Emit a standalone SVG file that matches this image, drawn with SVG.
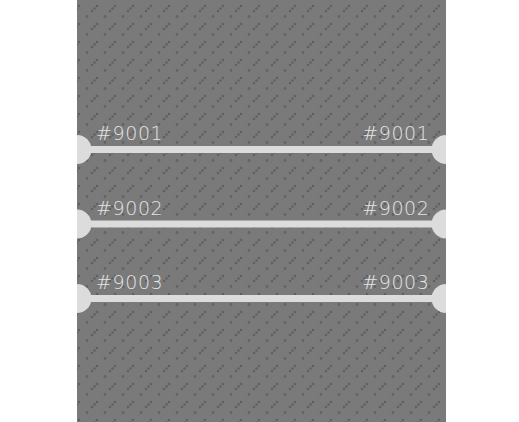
<svg xmlns="http://www.w3.org/2000/svg" width="519" height="422" viewBox="0 0 519 422">
  <defs>
    <pattern id="bg" x="0" y="0" width="18" height="18" patternUnits="userSpaceOnUse">
      <rect width="18" height="18" fill="#7a7a7a"/>
      <circle cx="15" cy="16.5" r="1.4" fill="#636363"/>
      <circle cx="2" cy="11" r="1.3" fill="#606060"/>
      <circle cx="4.5" cy="8.5" r="1.3" fill="#606060"/>
      <circle cx="7" cy="6" r="1.3" fill="#606060"/>
    </pattern>
    <clipPath id="clip"><rect x="77" y="0" width="369" height="422"/></clipPath>
  </defs>
  <style>
    .wire { stroke: #dcdcdc; stroke-width: 7; fill: none; }
    .port { fill: #dcdcdc; }
    .lbl { font-family: "DejaVu Sans", Verdana, sans-serif; font-weight: 200; font-size: 19px; letter-spacing: 0.6px; fill: #e4e4e4; }
    .r { text-anchor: end; }
  </style>
  <rect x="77" y="0" width="369" height="422" fill="url(#bg)"/>
  <g clip-path="url(#clip)">
    <g id="connectors">
      <line class="wire" x1="77" y1="149.5" x2="446" y2="149.5"/>
      <line class="wire" x1="77" y1="224" x2="446" y2="224"/>
      <line class="wire" x1="77" y1="298.5" x2="446" y2="298.5"/>
    </g>
    <g id="port-left-9001"><circle class="port" cx="77" cy="149.5" r="14.5"/><text class="lbl" x="96" y="140">#9001</text></g>
    <g id="port-right-9001"><circle class="port" cx="446" cy="149.5" r="14.5"/><text class="lbl r" x="429.5" y="140">#9001</text></g>
    <g id="port-left-9002"><circle class="port" cx="77" cy="224" r="14.5"/><text class="lbl" x="96" y="214.5">#9002</text></g>
    <g id="port-right-9002"><circle class="port" cx="446" cy="224" r="14.5"/><text class="lbl r" x="429.5" y="214.5">#9002</text></g>
    <g id="port-left-9003"><circle class="port" cx="77" cy="298.5" r="14.5"/><text class="lbl" x="96" y="289">#9003</text></g>
    <g id="port-right-9003"><circle class="port" cx="446" cy="298.5" r="14.5"/><text class="lbl r" x="429.5" y="289">#9003</text></g>
  </g>
</svg>
